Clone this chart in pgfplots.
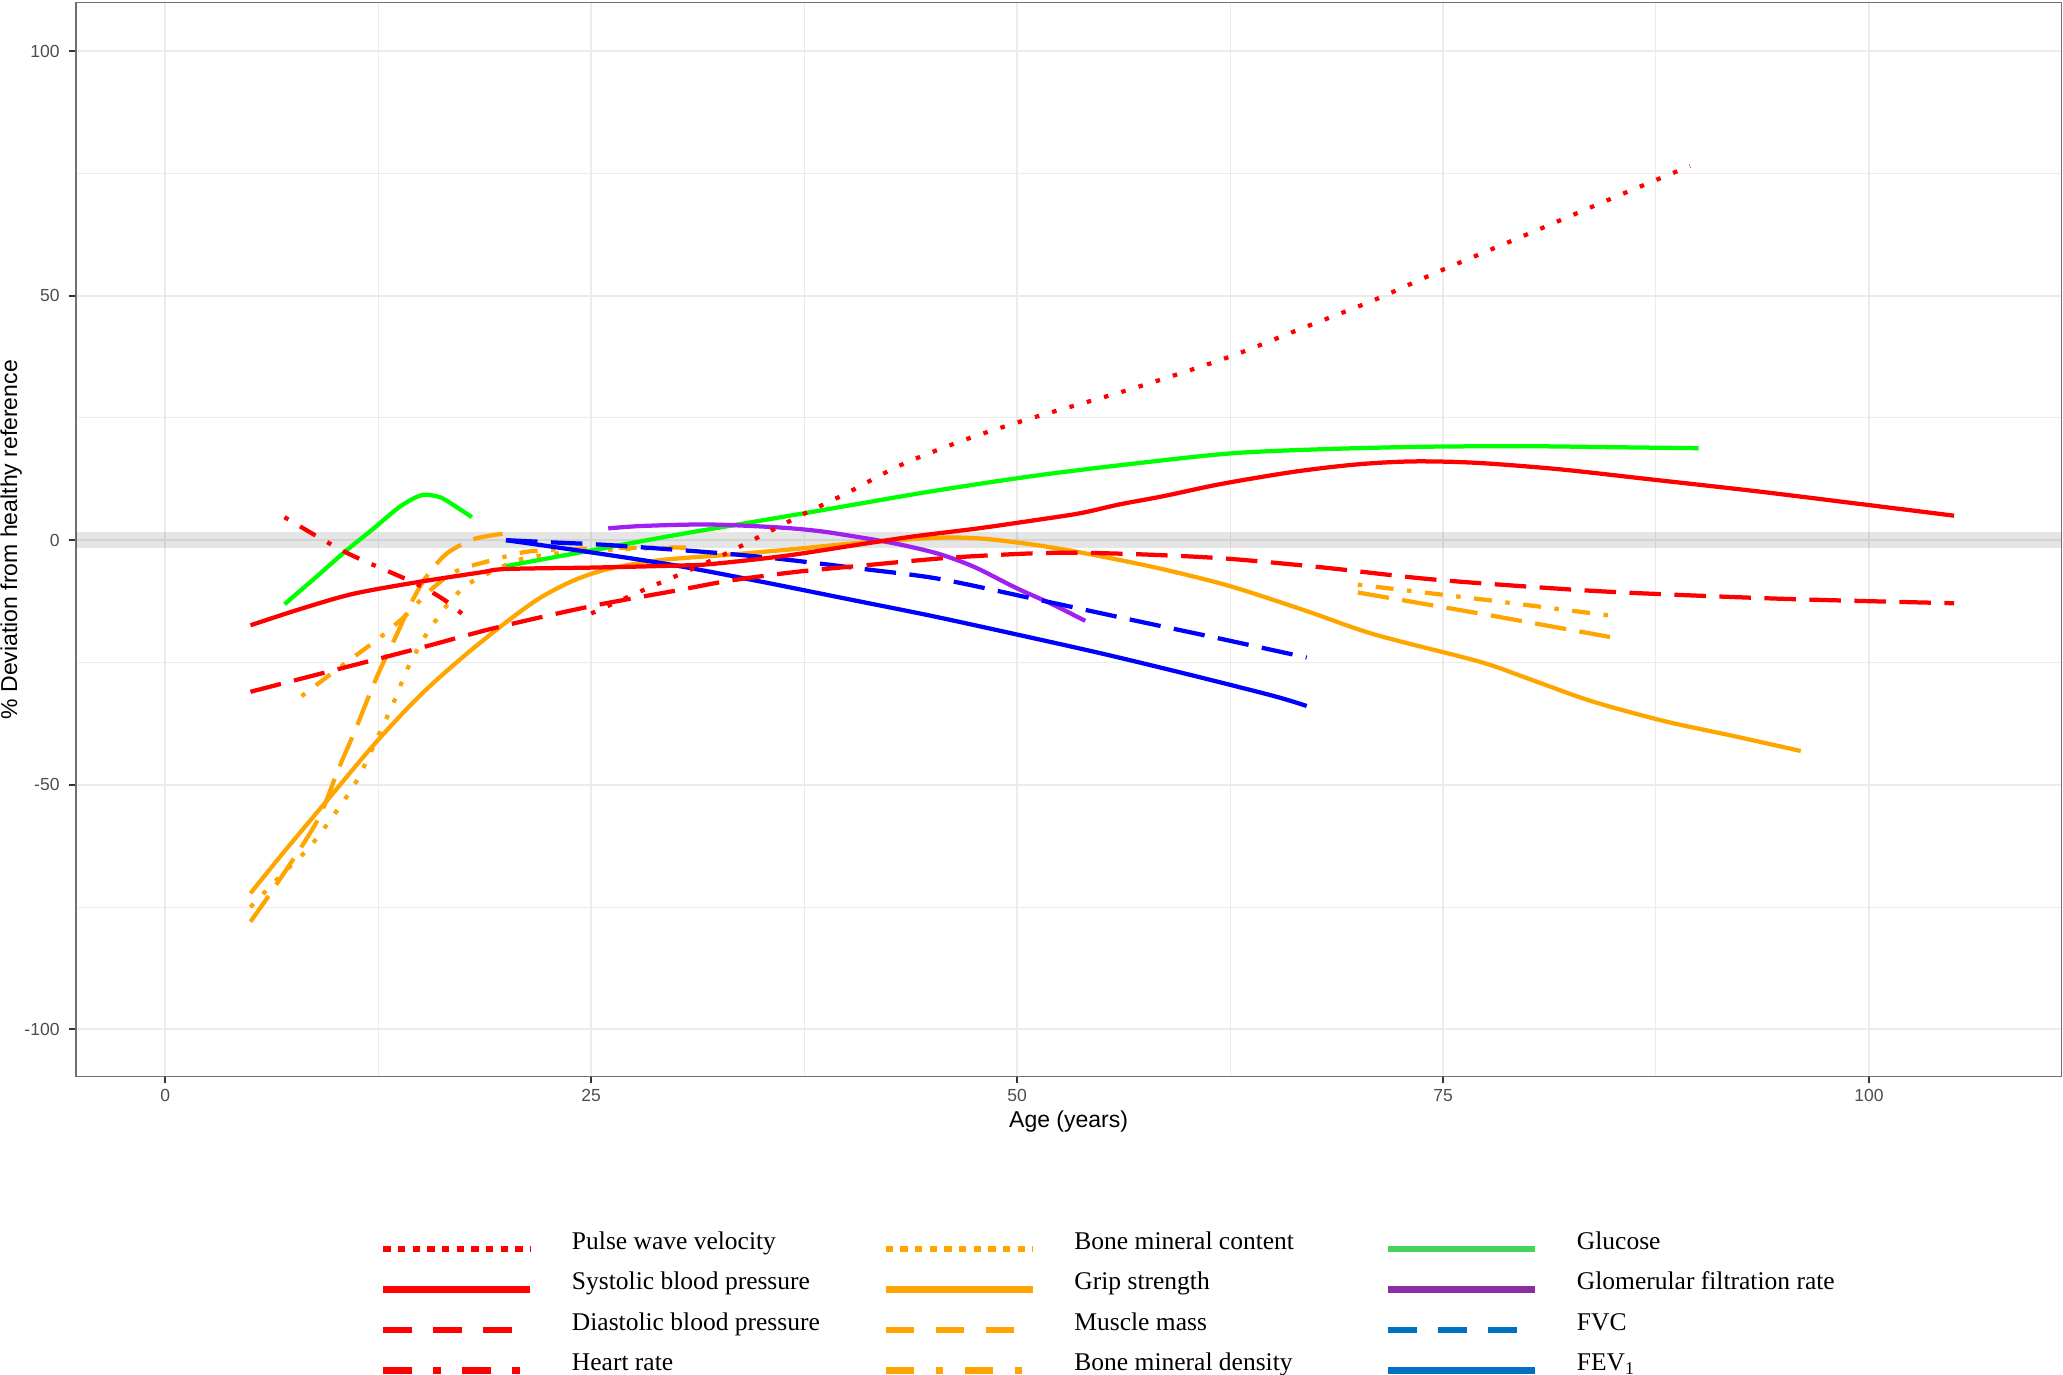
\documentclass[border=0pt]{standalone}
\usepackage{fontspec}
\setmainfont{Liberation Sans}
\newfontfamily\legendfont{Liberation Serif}
\usepackage{pgfplots}
\pgfplotsset{compat=1.18}
\definecolor{cRed}{HTML}{FF0000}
\definecolor{cOrange}{HTML}{FFA500}
\definecolor{cGreen}{HTML}{00FF00}
\definecolor{cPurple}{HTML}{A020F0}
\definecolor{cBlue}{HTML}{0000FF}
\definecolor{lGreen}{HTML}{45D35A}
\definecolor{lPurple}{HTML}{8B2FA0}
\definecolor{lBlue}{HTML}{0070C0}
\definecolor{gridc}{HTML}{EBEBEB}
\definecolor{tickc}{HTML}{4D4D4D}
\definecolor{borderc}{HTML}{707070}
\tikzset{
  crv/.style={line width=1.7pt},
  ldash/.style={dash pattern=on 12.6pt off 5.4pt},
  dots/.style={dash pattern=on 1.8pt off 5.4pt},
  ddash/.style={dash pattern=on 1.8pt off 5.4pt on 7.2pt off 5.4pt},
  key/.style={line width=2.67pt},
  kdots/.style={dash pattern=on 2.93pt off 2.93pt},
  kldash/.style={dash pattern=on 11.33pt off 8.67pt},
  kddash/.style={dash pattern=on 11.33pt off 8.67pt on 2.93pt off 8.67pt},
}
\newcommand{\lab}[1]{\makebox[124.2pt][l]{#1}}
\begin{document}
\begin{tikzpicture}
\path[use as bounding box] (0,0) rectangle (825.2pt,-549.6pt);
\begin{axis}[
  at={(30.4pt,-1.08pt)}, anchor=north west,
  scale only axis, width=794.1pt, height=429.6pt,
  xmin=-5.24, xmax=111.29, ymin=-109.69, ymax=109.87,
  xtick={0,25,50,75,100}, xticklabels={0,25,50,75,100},
  ytick={-100,-50,0,50,100}, yticklabels={-100,-50,0,50,100},
  minor xtick={12.5,37.5,62.5,87.5},
  minor ytick={-75,-25,25,75},
  grid=both,
  major grid style={draw=gridc, line width=0.8pt},
  minor grid style={draw=gridc, line width=0.4pt},
  tick pos=left, tick align=outside,
  major tick length=2.7pt, minor tick length=0pt,
  major tick style={draw=black!80, line width=0.8pt},
  axis line style={draw=borderc, line width=0.6pt},
  ticklabel style={font=\fontsize{7}{8.4}\selectfont, text=tickc},
  xticklabel style={anchor=north, inner sep=0pt, yshift=-2.1pt},
  yticklabel style={anchor=east, inner sep=0pt, xshift=-3.7pt},
  xlabel={Age (years)},
  ylabel={\% Deviation from healthy reference},
  xlabel style={at={(axis description cs:0.5,-0.04683)}, anchor=base, font=\fontsize{9.2}{11}\selectfont},
  ylabel style={at={(axis description cs:-0.0296,0.5)}, anchor=base, font=\fontsize{9.2}{11}\selectfont},
  legend columns=4, transpose legend,
  legend cell align=left,
  legend image code/.code={\draw[#1] (0pt,0pt) -- (58.7pt,0pt);},
  legend style={draw=none, fill=none, inner sep=0pt, outer sep=0pt,
    at={(axis description cs:0.15312,-0.14413)}, anchor=north west,
    font=\legendfont\fontsize{10.2}{12}\selectfont,
    nodes={inner sep=0pt, text height=7pt, text depth=2.5pt, anchor=base west},
    row sep=6.7pt,
    /tikz/every odd column/.append style={column sep=15.43pt}},
]
% reference band
\addplot[draw=none, fill=black, fill opacity=0.1, forget plot] coordinates {(-10,-1.6) (120,-1.6) (120,1.6) (-10,1.6)} -- cycle;

% legend entries
\addlegendimage{key, cRed, kdots}\addlegendentry{\lab{Pulse wave velocity}}
\addlegendimage{key, cRed}\addlegendentry{\lab{Systolic blood pressure}}
\addlegendimage{key, cRed, kldash}\addlegendentry{\lab{Diastolic blood pressure}}
\addlegendimage{key, cRed, kddash}\addlegendentry{\lab{Heart rate}}
\addlegendimage{key, cOrange, kdots}\addlegendentry{\lab{Bone mineral content}}
\addlegendimage{key, cOrange}\addlegendentry{\lab{Grip strength}}
\addlegendimage{key, cOrange, kldash}\addlegendentry{\lab{Muscle mass}}
\addlegendimage{key, cOrange, kddash}\addlegendentry{\lab{Bone mineral density}}
\addlegendimage{key, lGreen}\addlegendentry{\lab{Glucose}}
\addlegendimage{key, lPurple}\addlegendentry{\lab{Glomerular filtration rate}}
\addlegendimage{key, lBlue, kldash}\addlegendentry{\lab{FVC}}
\addlegendimage{key, lBlue}\addlegendentry{\lab{FEV\textsubscript{1}}}

% Grip strength
\addplot[crv, cOrange, smooth, forget plot] coordinates {
(5,-72.2) (7,-63.6) (9.5,-53.2) (12.4,-41.2) (15,-31.6) (17.5,-23.8) (20,-16.8) (22,-11.8) (24,-8.2) (26,-5.9)
(29,-4.1) (33,-3) (37,-1.8) (40.9,-0.5) (45.4,0.5) (48,0.3) (50.9,-0.9) (53.7,-2.5) (58,-5.5) (62.4,-9.3)
(67,-14.5) (71,-19.3) (77.1,-24.8) (80,-28.3) (83.7,-32.9) (88,-37) (92,-40) (96,-43.1)};
% Bone mineral content
\addplot[crv, cOrange, dots, smooth, forget plot] coordinates {
(5,-75) (6.8,-68.5) (8.65,-62) (11.1,-50) (12.5,-40) (13.4,-33.2) (14.2,-26.4) (15.1,-20.5) (15.8,-16.8)
(16.4,-13.9) (17.1,-11.1) (17.9,-8.7) (20.6,-4.2) (22.8,-2.8) (25.1,-2.2) (28,-1.7) (31,-1.6)};
% Muscle mass
\addplot[crv, cOrange, ldash, smooth, forget plot] coordinates {
(5,-78) (6.5,-70.5) (8.9,-57.5) (10.2,-46.5) (11.2,-38.4) (12.4,-28.1) (13.6,-19.2) (14.5,-12.4) (15.3,-7.6)
(16.5,-2.8) (18.1,0.2) (19.8,1.3)};
\addplot[crv, cOrange, ldash, forget plot] coordinates {(70,-10.7) (77.5,-15.2) (84.8,-19.8)};
% Bone mineral density
\addplot[crv, cOrange, ddash, smooth, forget plot] coordinates {
(8,-31.9) (10.2,-26.1) (12.6,-19.9) (14.2,-15.1) (15.5,-10.4) (17.1,-6.3) (19.4,-3.9) (21,-2.5) (22.4,-2)
(24,-1.8) (27,-1.6) (31,-1.5)};
\addplot[crv, cOrange, ddash, forget plot] coordinates {(70,-9.1) (77.5,-12.2) (85,-15.5)};
% Glucose
\addplot[crv, cGreen, smooth, forget plot] coordinates {
(7,-13.1) (8.8,-7.7) (10.6,-2.2) (12.2,2.3) (13.6,6.4) (14.5,8.4) (15.2,9.3) (16,8.9) (16.5,8.1) (18,4.7)};
\addplot[crv, cGreen, smooth, forget plot] coordinates {
(20,-5.3) (25,-2.1) (30.2,1.2) (33.1,2.9) (37,5.2) (40,7) (45,10) (50.9,13.1) (56,15.3) (62.4,17.7)
(68,18.6) (74,19.1) (80,19.2) (85,19) (90,18.8)};
% Glomerular filtration rate
\addplot[crv, cPurple, smooth, forget plot] coordinates {
(26,2.4) (28,2.9) (31.9,3.2) (36,2.6) (38.5,1.8) (40.9,0.5) (43,-0.8) (45.4,-2.8) (47.5,-5.5) (49.9,-9.7)
(52,-13) (54,-16.5)};
% FVC
\addplot[crv, cBlue, ldash, smooth, forget plot] coordinates {
(20,0) (23,-0.5) (26,-1) (32,-2.5) (36,-3.8) (41,-5.9) (45.4,-7.9) (51,-12) (57,-16.5) (62,-20.2) (67,-24)};
% FEV1
\addplot[crv, cBlue, smooth, forget plot] coordinates {
(20,0) (25,-2.5) (30,-5.2) (35,-8.5) (40,-12) (45,-15.5) (50,-19.3) (55,-23.2) (60,-27.4) (65,-31.8) (67,-33.9)};
% Heart rate
\addplot[crv, cRed, ddash, smooth, forget plot] coordinates {
(7,4.7) (10.6,-2.5) (14.6,-8.7) (16.5,-12.5) (18,-16.8)};
% Diastolic blood pressure
\addplot[crv, cRed, ldash, smooth, forget plot] coordinates {
(5,-31) (10,-26.5) (15,-22) (19.4,-17.9) (25,-13.5) (30,-10.3) (33.1,-8.3) (37,-6.5) (40.9,-5.2) (46,-3.6)
(50.9,-2.7) (54,-2.6) (58,-3) (62.4,-3.8) (68,-5.6) (74,-7.9) (80,-9.5) (85.6,-10.7) (95,-12) (105,-12.9)};
% Systolic blood pressure
\addplot[crv, cRed, smooth, forget plot] coordinates {
(5,-17.4) (8,-14) (11,-11) (14.6,-8.7) (18.5,-6.6) (20,-5.9) (25.2,-5.6) (30,-5.2) (32,-4.9) (36.4,-3.2)
(40.9,-0.8) (44,0.8) (47.7,2.4) (50.9,4) (53.7,5.5) (56,7.3) (58.6,9) (62,11.5) (66.3,14) (70,15.5)
(73.3,16.1) (77,15.8) (81.8,14.5) (87,12.5) (93.4,10) (99,7.6) (105,5)};
% Pulse wave velocity
\addplot[crv, cRed, dots, smooth, forget plot] coordinates {
(25,-15) (28,-10.3) (31,-5.8) (33,-2.6) (35.7,2.2) (37.5,5.4) (40,9.6) (43.2,15.4) (47,20.6) (50.9,25)
(56.7,30.9) (62.4,37.4) (66.5,43) (70.9,49) (74.8,55) (80,62.6) (85,70) (89.5,76.5)};
\end{axis}
\end{tikzpicture}
\end{document}
